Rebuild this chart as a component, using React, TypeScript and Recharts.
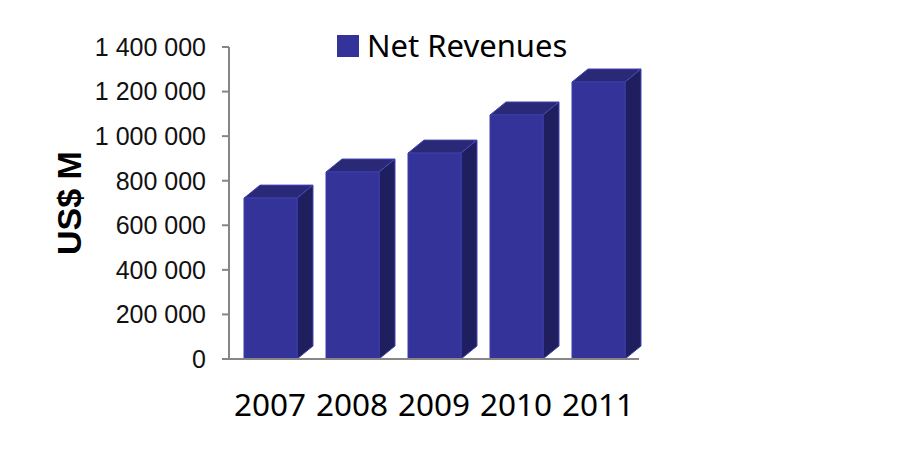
import React from 'react';
import { BarChart, Bar, XAxis, YAxis, Legend, Label } from 'recharts';

const years = ['2007', '2008', '2009', '2010', '2011'];
const netRevenues = [722000, 839000, 924000, 1095000, 1243000];
const yTicks = [0, 200000, 400000, 600000, 800000, 1000000, 1200000, 1400000];

const data = years.map((year, i) => ({ year, revenue: netRevenues[i] }));

const formatTick = (value: number) =>
  String(value).replace(/\B(?=(\d{3})+$)/g, ' ');

// 3d look of the original: front face, top face and side face
const Bar3D = ({ x, y, width, height }: any) => {
  const dx = 16;
  const dy = 13;
  const right = x + width;
  const bottom = y + height;
  const edge = '#4646b4';
  return (
    <g strokeWidth={1} strokeLinejoin="round">
      <polygon
        points={`${x},${y} ${x + dx},${y - dy} ${right + dx},${y - dy} ${right},${y}`}
        fill="#292977"
        stroke={edge}
      />
      <polygon
        points={`${right},${y} ${right + dx},${y - dy} ${right + dx},${bottom - dy} ${right},${bottom}`}
        fill="#1f1f5f"
        stroke={edge}
      />
      <rect x={x} y={y} width={width} height={height} fill="#333399" stroke="#3c3caa" />
    </g>
  );
};

export default function App() {
  return (
    <div style={{ position: 'absolute', left: 0, top: 0, width: 916, height: 475, background: '#fff' }}>
      <BarChart
        width={916}
        height={475}
        data={data}
        margin={{ top: 47, right: 277, bottom: 0, left: 99 }}
        barCategoryGap={0}
      >
        <XAxis
          dataKey="year"
          height={116}
          tickSize={0}
          tickMargin={35}
          axisLine={{ stroke: '#868686', strokeWidth: 2 }}
          tick={{ fill: '#000', fontSize: 31.5, fontFamily: '"Noto Sans"' }}
        />
        <YAxis
          width={130}
          domain={[0, 1400000]}
          ticks={yTicks}
          interval={0}
          tickFormatter={formatTick}
          tickSize={7}
          tickMargin={16}
          axisLine={{ stroke: '#868686', strokeWidth: 2 }}
          tickLine={{ stroke: '#868686', strokeWidth: 2 }}
          tick={{ fill: '#111', fontSize: 25, fontFamily: '"Liberation Sans"' }}
        >
          <Label
            value="US$ M"
            angle={-90}
            position="insideLeft"
            offset={-30}
            style={{ fill: '#000', fontSize: 34, fontWeight: 700, fontFamily: '"Liberation Sans"', textAnchor: 'middle' }}
          />
        </YAxis>
        <Legend
          layout="horizontal"
          verticalAlign="top"
          align="left"
          iconType="square"
          iconSize={22}
          height={0}
          wrapperStyle={{ position: 'absolute', left: 337, top: 15, width: 260, height: 0, lineHeight: '46px' }}
          formatter={(value: string) => (
            <span style={{ color: '#000', fontSize: 31, fontFamily: '"Noto Sans"', marginLeft: 4, position: 'relative', top: 7 }}>{value}</span>
          )}
        />
        <Bar
          dataKey="revenue"
          name="Net Revenues"
          fill="#333399"
          barSize={53}
          shape={Bar3D}
          isAnimationActive={false}
        />
      </BarChart>
    </div>
  );
}
